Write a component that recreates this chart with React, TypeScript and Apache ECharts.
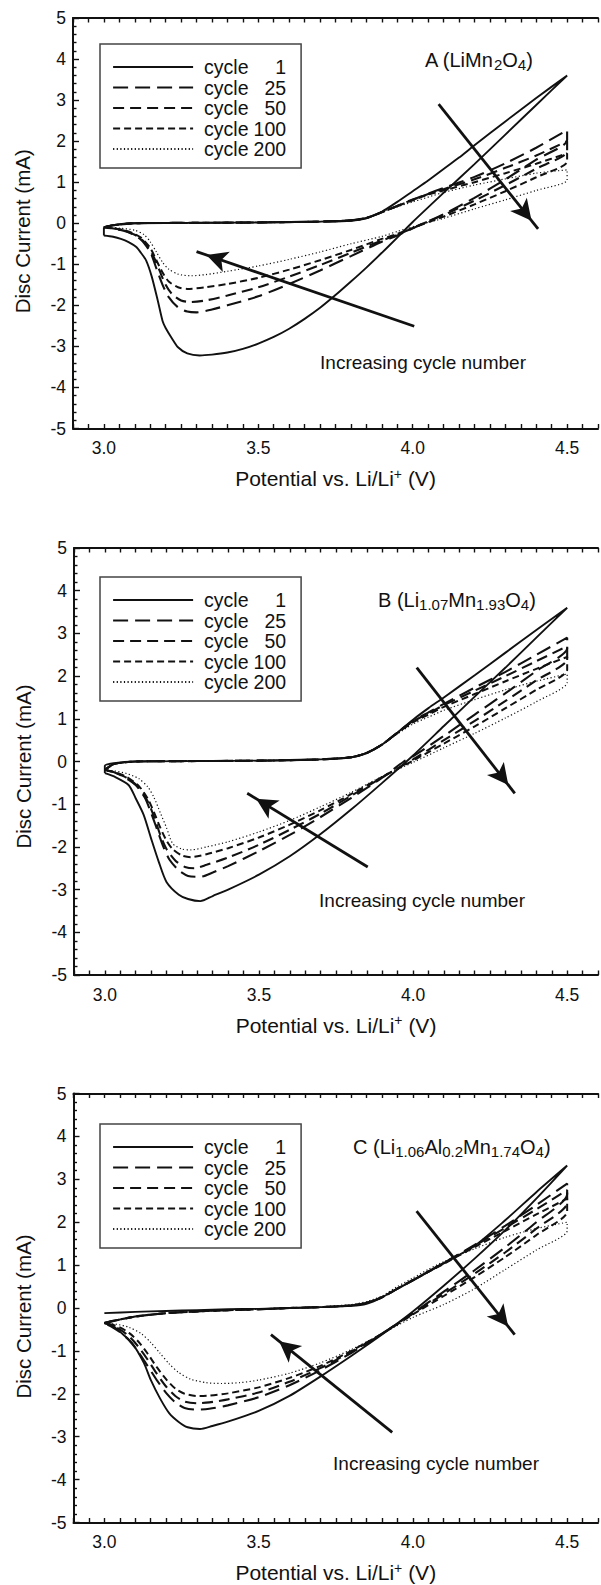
import React, { useEffect, useRef } from 'react';
import * as echarts from 'echarts';

const FONT = '"Liberation Sans", Arial, Helvetica, sans-serif';
const INK = '#111';

const cycleNames = ['cycle 1', 'cycle 25', 'cycle 50', 'cycle 100', 'cycle 200'];
const xTickLabels = [3.0, 3.5, 4.0, 4.5];
const xRange = [2.9, 4.6];
const yRange = [-5, 5];

// ---------- Panel A (LiMn2O4) ----------
const A_cycle1 = [
  [3.0, -0.3], [3.0, -0.12], [3.02, -0.06], [3.05, -0.02], [3.1, 0.0], [3.3, 0.01], [3.5, 0.02], [3.7, 0.04], [3.8, 0.06], [3.85, 0.12], [3.9, 0.28], [3.95, 0.52], [4.0, 0.78], [4.05, 1.04], [4.1, 1.32], [4.15, 1.6], [4.2, 1.9], [4.3, 2.48], [4.4, 3.05], [4.5, 3.6],
  [4.4, 2.88], [4.3, 2.16], [4.2, 1.44], [4.1, 0.74], [4.0, 0.03], [3.95, -0.35], [3.9, -0.72], [3.85, -1.08], [3.8, -1.42], [3.75, -1.75], [3.7, -2.06], [3.65, -2.33], [3.6, -2.57], [3.55, -2.77], [3.5, -2.93], [3.45, -3.06], [3.4, -3.15], [3.35, -3.2], [3.31, -3.22], [3.27, -3.17], [3.24, -3.02], [3.22, -2.8], [3.2, -2.55], [3.19, -2.38], [3.175, -1.9], [3.155, -1.3], [3.137, -0.91], [3.12, -0.72], [3.105, -0.58], [3.08, -0.46], [3.055, -0.38], [3.03, -0.33], [3.0, -0.3],
];
const A_cycle25 = [
  [3.0, -0.1], [3.03, -0.05], [3.1, 0.0], [3.3, 0.01], [3.5, 0.02], [3.7, 0.04], [3.8, 0.07], [3.85, 0.13], [3.9, 0.27], [3.95, 0.42], [4.0, 0.58], [4.05, 0.72], [4.1, 0.86], [4.2, 1.13], [4.3, 1.46], [4.4, 1.84], [4.5, 2.27],
  [4.5, 2.02], [4.4, 1.55], [4.3, 1.07], [4.2, 0.62], [4.1, 0.22], [4.03, -0.02], [3.95, -0.3], [3.9, -0.45], [3.8, -0.8], [3.7, -1.15], [3.6, -1.48], [3.5, -1.78], [3.4, -2.0], [3.35, -2.1], [3.3, -2.17], [3.27, -2.15], [3.24, -2.05], [3.21, -1.8], [3.19, -1.5], [3.17, -1.1], [3.15, -0.7], [3.12, -0.4], [3.08, -0.22], [3.04, -0.14], [3.0, -0.1],
];
const A_cycle50 = [
  [3.0, -0.1], [3.03, -0.05], [3.1, 0.0], [3.3, 0.01], [3.5, 0.02], [3.7, 0.04], [3.8, 0.07], [3.85, 0.13], [3.9, 0.27], [3.95, 0.42], [4.0, 0.57], [4.05, 0.71], [4.1, 0.83], [4.2, 1.07], [4.3, 1.35], [4.4, 1.65], [4.5, 2.0],
  [4.5, 1.75], [4.4, 1.33], [4.3, 0.93], [4.2, 0.55], [4.1, 0.2], [4.03, -0.02], [3.95, -0.28], [3.9, -0.42], [3.8, -0.72], [3.7, -1.02], [3.6, -1.3], [3.5, -1.56], [3.4, -1.76], [3.33, -1.88], [3.28, -1.92], [3.25, -1.88], [3.22, -1.72], [3.2, -1.5], [3.18, -1.15], [3.16, -0.8], [3.13, -0.45], [3.1, -0.28], [3.05, -0.15], [3.0, -0.1],
];
const A_cycle100 = [
  [3.0, -0.1], [3.03, -0.05], [3.1, 0.0], [3.3, 0.01], [3.5, 0.02], [3.7, 0.04], [3.8, 0.07], [3.85, 0.13], [3.9, 0.27], [3.95, 0.42], [4.0, 0.56], [4.05, 0.7], [4.1, 0.8], [4.2, 1.0], [4.3, 1.22], [4.4, 1.45], [4.5, 1.7],
  [4.5, 1.5], [4.4, 1.12], [4.3, 0.78], [4.2, 0.46], [4.1, 0.16], [4.03, -0.03], [3.95, -0.26], [3.9, -0.38], [3.8, -0.65], [3.7, -0.9], [3.6, -1.13], [3.5, -1.33], [3.4, -1.48], [3.33, -1.56], [3.27, -1.6], [3.24, -1.56], [3.21, -1.42], [3.19, -1.2], [3.17, -0.9], [3.15, -0.6], [3.12, -0.35], [3.08, -0.2], [3.03, -0.12], [3.0, -0.1],
];
const A_cycle200 = [
  [3.0, -0.1], [3.03, -0.05], [3.1, 0.0], [3.3, 0.01], [3.5, 0.02], [3.7, 0.04], [3.8, 0.08], [3.85, 0.14], [3.9, 0.27], [3.95, 0.4], [4.0, 0.52], [4.1, 0.75], [4.2, 0.93], [4.3, 1.08], [4.4, 1.22], [4.5, 1.3],
  [4.5, 1.05], [4.4, 0.8], [4.3, 0.57], [4.2, 0.35], [4.1, 0.12], [4.03, -0.02], [3.95, -0.2], [3.9, -0.32], [3.8, -0.5], [3.7, -0.7], [3.6, -0.88], [3.5, -1.04], [3.4, -1.17], [3.33, -1.25], [3.28, -1.28], [3.24, -1.24], [3.21, -1.12], [3.19, -0.95], [3.17, -0.7], [3.15, -0.45], [3.13, -0.28], [3.1, -0.17], [3.05, -0.12], [3.0, -0.1],
];

// ---------- Panel B (Li1.07Mn1.93O4) ----------
const B_cycle1 = [
  [3.0, -0.27], [3.0, -0.1], [3.03, -0.04], [3.1, 0.0], [3.3, 0.01], [3.5, 0.02], [3.7, 0.05], [3.8, 0.1], [3.85, 0.2], [3.9, 0.4], [3.95, 0.68], [4.0, 0.98], [4.05, 1.25], [4.1, 1.5], [4.2, 2.02], [4.3, 2.55], [4.4, 3.08], [4.5, 3.6],
  [4.4, 2.9], [4.3, 2.2], [4.2, 1.52], [4.1, 0.83], [4.0, 0.14], [3.9, -0.5], [3.8, -1.12], [3.7, -1.7], [3.6, -2.22], [3.5, -2.65], [3.4, -3.0], [3.35, -3.15], [3.31, -3.27], [3.27, -3.22], [3.24, -3.12], [3.2, -2.82], [3.175, -2.35], [3.15, -1.8], [3.126, -1.25], [3.1, -0.86], [3.077, -0.55], [3.03, -0.35], [3.0, -0.27],
];
const B_cycle25 = [
  [3.0, -0.2], [3.03, -0.06], [3.1, 0.0], [3.3, 0.01], [3.5, 0.02], [3.7, 0.05], [3.8, 0.1], [3.85, 0.2], [3.9, 0.4], [3.95, 0.68], [4.0, 0.95], [4.05, 1.15], [4.1, 1.35], [4.2, 1.73], [4.3, 2.1], [4.4, 2.5], [4.5, 2.9],
  [4.5, 2.65], [4.4, 2.12], [4.3, 1.6], [4.2, 1.1], [4.1, 0.6], [4.0, 0.12], [3.97, 0.0], [3.9, -0.38], [3.8, -0.85], [3.7, -1.3], [3.6, -1.72], [3.5, -2.1], [3.4, -2.45], [3.35, -2.6], [3.31, -2.7], [3.27, -2.68], [3.24, -2.55], [3.21, -2.3], [3.19, -2.0], [3.17, -1.6], [3.15, -1.2], [3.13, -0.85], [3.1, -0.55], [3.06, -0.35], [3.03, -0.25], [3.0, -0.2],
];
const B_cycle50 = [
  [3.0, -0.2], [3.03, -0.06], [3.1, 0.0], [3.3, 0.01], [3.5, 0.02], [3.7, 0.05], [3.8, 0.1], [3.85, 0.2], [3.9, 0.4], [3.95, 0.68], [4.0, 0.94], [4.05, 1.13], [4.1, 1.32], [4.2, 1.66], [4.3, 2.0], [4.4, 2.35], [4.5, 2.7],
  [4.5, 2.4], [4.4, 1.9], [4.3, 1.42], [4.2, 0.95], [4.1, 0.5], [4.0, 0.05], [3.9, -0.37], [3.8, -0.8], [3.7, -1.22], [3.6, -1.6], [3.5, -1.95], [3.4, -2.25], [3.33, -2.42], [3.29, -2.5], [3.26, -2.47], [3.23, -2.33], [3.2, -2.05], [3.18, -1.72], [3.16, -1.3], [3.14, -0.95], [3.11, -0.6], [3.07, -0.38], [3.03, -0.25], [3.0, -0.2],
];
const B_cycle100 = [
  [3.0, -0.2], [3.03, -0.06], [3.1, 0.0], [3.3, 0.01], [3.5, 0.02], [3.7, 0.05], [3.8, 0.1], [3.85, 0.2], [3.9, 0.4], [3.95, 0.67], [4.0, 0.92], [4.05, 1.1], [4.1, 1.28], [4.2, 1.58], [4.3, 1.88], [4.4, 2.17], [4.5, 2.45],
  [4.5, 2.15], [4.4, 1.68], [4.3, 1.25], [4.2, 0.82], [4.1, 0.42], [4.0, 0.02], [3.9, -0.36], [3.8, -0.76], [3.7, -1.14], [3.6, -1.48], [3.5, -1.78], [3.4, -2.03], [3.33, -2.17], [3.28, -2.24], [3.25, -2.2], [3.22, -2.05], [3.2, -1.85], [3.18, -1.55], [3.16, -1.2], [3.14, -0.88], [3.11, -0.57], [3.07, -0.36], [3.03, -0.25], [3.0, -0.2],
];
const B_cycle200 = [
  [3.0, -0.2], [3.03, -0.06], [3.1, 0.0], [3.3, 0.01], [3.5, 0.02], [3.7, 0.05], [3.8, 0.11], [3.85, 0.21], [3.9, 0.4], [3.95, 0.65], [4.0, 0.88], [4.05, 1.04], [4.1, 1.2], [4.2, 1.45], [4.3, 1.68], [4.4, 1.88], [4.5, 2.05],
  [4.5, 1.85], [4.4, 1.4], [4.3, 1.02], [4.2, 0.66], [4.1, 0.32], [4.0, -0.02], [3.9, -0.35], [3.8, -0.72], [3.7, -1.06], [3.6, -1.38], [3.5, -1.65], [3.4, -1.88], [3.33, -2.0], [3.28, -2.07], [3.25, -2.05], [3.22, -1.92], [3.2, -1.55], [3.18, -1.2], [3.16, -0.85], [3.14, -0.6], [3.11, -0.4], [3.07, -0.28], [3.03, -0.22], [3.0, -0.2],
];

// ---------- Panel C (Li1.06Al0.2Mn1.74O4) ----------
const C_cycle1 = [
  [3.0, -0.12], [3.1, -0.09], [3.2, -0.07], [3.3, -0.05], [3.4, -0.03], [3.5, -0.02], [3.6, 0.0], [3.7, 0.02], [3.8, 0.05], [3.85, 0.1], [3.9, 0.25], [3.95, 0.45], [4.0, 0.64], [4.05, 0.84], [4.1, 1.04], [4.2, 1.45], [4.3, 2.05], [4.4, 2.7], [4.5, 3.32],
  [4.4, 2.55], [4.3, 1.82], [4.2, 1.15], [4.1, 0.52], [4.0, -0.08], [3.9, -0.62], [3.8, -1.12], [3.7, -1.6], [3.6, -2.05], [3.5, -2.4], [3.4, -2.65], [3.35, -2.75], [3.31, -2.82], [3.27, -2.78], [3.24, -2.65], [3.21, -2.45], [3.18, -2.1], [3.15, -1.67], [3.128, -1.28], [3.09, -0.82], [3.055, -0.58], [3.03, -0.43], [3.0, -0.35],
];
const C_cycle25 = [
  [3.0, -0.35], [3.03, -0.3], [3.1, -0.2], [3.2, -0.12], [3.3, -0.08], [3.4, -0.05], [3.5, -0.03], [3.6, 0.0], [3.7, 0.02], [3.8, 0.06], [3.85, 0.12], [3.9, 0.25], [3.95, 0.45], [4.0, 0.65], [4.05, 0.85], [4.1, 1.05], [4.2, 1.47], [4.3, 1.92], [4.4, 2.4], [4.5, 2.9],
  [4.5, 2.65], [4.4, 2.0], [4.3, 1.42], [4.2, 0.88], [4.1, 0.38], [4.0, -0.12], [3.9, -0.6], [3.8, -1.05], [3.7, -1.45], [3.6, -1.8], [3.5, -2.08], [3.4, -2.27], [3.34, -2.35], [3.3, -2.37], [3.26, -2.33], [3.23, -2.2], [3.2, -1.98], [3.17, -1.68], [3.14, -1.35], [3.11, -1.02], [3.08, -0.75], [3.05, -0.56], [3.02, -0.42], [3.0, -0.35],
];
const C_cycle50 = [
  [3.0, -0.35], [3.03, -0.3], [3.1, -0.2], [3.2, -0.12], [3.3, -0.08], [3.4, -0.05], [3.5, -0.03], [3.6, 0.0], [3.7, 0.02], [3.8, 0.06], [3.85, 0.12], [3.9, 0.25], [3.95, 0.45], [4.0, 0.65], [4.05, 0.85], [4.1, 1.05], [4.2, 1.45], [4.3, 1.87], [4.4, 2.3], [4.5, 2.75],
  [4.5, 2.45], [4.4, 1.85], [4.3, 1.3], [4.2, 0.8], [4.1, 0.33], [4.0, -0.13], [3.9, -0.6], [3.8, -1.02], [3.7, -1.4], [3.6, -1.72], [3.5, -1.97], [3.4, -2.13], [3.34, -2.2], [3.3, -2.22], [3.26, -2.18], [3.23, -2.05], [3.2, -1.83], [3.17, -1.53], [3.14, -1.2], [3.11, -0.9], [3.08, -0.66], [3.05, -0.5], [3.02, -0.4], [3.0, -0.35],
];
const C_cycle100 = [
  [3.0, -0.35], [3.03, -0.3], [3.1, -0.2], [3.2, -0.12], [3.3, -0.08], [3.4, -0.05], [3.5, -0.03], [3.6, 0.0], [3.7, 0.02], [3.8, 0.06], [3.85, 0.12], [3.9, 0.25], [3.95, 0.45], [4.0, 0.65], [4.05, 0.84], [4.1, 1.03], [4.2, 1.42], [4.3, 1.8], [4.4, 2.18], [4.5, 2.55],
  [4.5, 2.25], [4.4, 1.7], [4.3, 1.19], [4.2, 0.72], [4.1, 0.28], [4.0, -0.15], [3.9, -0.6], [3.8, -1.0], [3.7, -1.35], [3.6, -1.63], [3.5, -1.85], [3.4, -1.99], [3.34, -2.04], [3.3, -2.05], [3.26, -2.0], [3.23, -1.88], [3.2, -1.66], [3.17, -1.38], [3.14, -1.06], [3.11, -0.78], [3.08, -0.58], [3.05, -0.45], [3.02, -0.38], [3.0, -0.35],
];
const C_cycle200 = [
  [3.0, -0.35], [3.03, -0.3], [3.1, -0.2], [3.2, -0.12], [3.3, -0.08], [3.4, -0.05], [3.5, -0.03], [3.6, 0.0], [3.7, 0.03], [3.8, 0.08], [3.85, 0.15], [3.9, 0.28], [3.95, 0.5], [4.0, 0.7], [4.05, 0.9], [4.1, 1.08], [4.2, 1.38], [4.3, 1.65], [4.4, 1.85], [4.5, 2.0],
  [4.5, 1.8], [4.4, 1.35], [4.3, 0.9], [4.2, 0.45], [4.1, 0.08], [4.0, -0.22], [3.9, -0.6], [3.8, -0.97], [3.7, -1.28], [3.6, -1.52], [3.5, -1.68], [3.44, -1.74], [3.38, -1.76], [3.33, -1.74], [3.28, -1.66], [3.24, -1.5], [3.21, -1.3], [3.18, -1.05], [3.15, -0.8], [3.12, -0.6], [3.08, -0.45], [3.04, -0.38], [3.0, -0.35],
];

// Arrows: [tail, head] in data coordinates
const arrowsA = [[[4.005, -2.51], [3.30, -0.69]], [[4.084, 2.9], [4.406, -0.14]]];
const arrowsB = [[[3.853, -2.47], [3.462, -0.745]], [[4.012, 2.2], [4.33, -0.745]]];
const arrowsC = [[[3.933, -2.9], [3.54, -0.62]], [[4.012, 2.26], [4.33, -0.62]]];

const panelLabels = [
  '{m|A (LiMn}{s|2}{m|O}{s|4}{m|)}',
  '{m|B (Li}{s|1.07}{m|Mn}{s|1.93}{m|O}{s|4}{m|)}',
  '{m|C (Li}{s|1.06}{m|Al}{s|0.2}{m|Mn}{s|1.74}{m|O}{s|4}{m|)}',
];
const noteText = 'Increasing cycle number';
const xTitle = '{m|Potential vs. Li/Li}{p|+}{m| (V)}';
const yTitle = 'Disc Current (mA)';

const panelData = [
  [A_cycle1, A_cycle25, A_cycle50, A_cycle100, A_cycle200],
  [B_cycle1, B_cycle25, B_cycle50, B_cycle100, B_cycle200],
  [C_cycle1, C_cycle25, C_cycle50, C_cycle100, C_cycle200],
];
const panelArrows = [arrowsA, arrowsB, arrowsC];

// styles / layout (not data)
const lineStyles = [
  { type: 'solid', width: 1.9 },
  { type: [15, 7], width: 2.1 },
  { type: [11, 6], width: 2.1 },
  { type: [7, 4], width: 2.0 },
  { type: [1.2, 2.4], width: 1.2 },
];

const layouts = [
  { grid: { left: 73, top: 18, width: 535, height: 410.5 }, legend: { left: 100, top: 44 }, label: { x: 425, y: 60 }, note: { x: 423, y: 362 }, yPad: 16 },
  { grid: { left: 74, top: 548, width: 534, height: 427 }, legend: { left: 100, top: 577 }, label: { x: 378, y: 600 }, note: { x: 422, y: 900 }, yPad: 10 },
  { grid: { left: 73.5, top: 1093.5, width: 534, height: 429 }, legend: { left: 100, top: 1124 }, label: { x: 353, y: 1147 }, note: { x: 436, y: 1463 }, yPad: 17 },
];

const subRich = {
  m: { fontSize: 20, lineHeight: 24, fontFamily: FONT, color: INK },
  s: { fontSize: 15, lineHeight: 14, verticalAlign: 'bottom', fontFamily: FONT, color: INK },
};

function buildOption() {
  const axisLineStyle = { color: INK, width: 2 };
  const tickLine = { color: INK, width: 1.4 };
  const xFormatter = (v: number) =>
    xTickLabels.some((t) => Math.abs(t - v) < 1e-6) ? v.toFixed(1) : '';

  const grid: any[] = [];
  const xAxis: any[] = [];
  const yAxis: any[] = [];
  const series: any[] = [];
  const legend: any[] = [];
  const graphic: any[] = [];

  layouts.forEach((lay, p) => {
    grid.push({ ...lay.grid });
    xAxis.push({
      type: 'value', gridIndex: p, position: 'bottom', min: xRange[0], max: xRange[1], interval: 0.05,
      axisLine: { onZero: false, lineStyle: axisLineStyle },
      axisTick: { inside: true, length: 4.5, lineStyle: tickLine },
      splitLine: { show: false },
      axisLabel: { formatter: xFormatter, margin: 10.5, fontSize: 17.5, color: INK, fontFamily: FONT },
      name: xTitle, nameLocation: 'middle', nameGap: 38,
      nameTextStyle: {
        fontSize: 21, color: INK, fontFamily: FONT,
        rich: {
          m: { fontSize: 21, lineHeight: 24, fontFamily: FONT, color: INK },
          p: { fontSize: 14, lineHeight: 12, verticalAlign: 'top', fontFamily: FONT, color: INK },
        },
      },
    });
    xAxis.push({
      type: 'value', gridIndex: p, position: 'top', min: xRange[0], max: xRange[1], interval: 0.05,
      axisLine: { onZero: false, lineStyle: axisLineStyle },
      axisTick: { inside: true, length: 4.5, lineStyle: tickLine },
      splitLine: { show: false },
      axisLabel: { show: false },
    });
    yAxis.push({
      type: 'value', gridIndex: p, position: 'left', min: yRange[0], max: yRange[1], interval: 1,
      axisLine: { show: true, onZero: false, lineStyle: axisLineStyle },
      axisTick: { inside: true, length: 6, lineStyle: tickLine },
      minorTick: { show: true, splitNumber: 5, length: 3.5, lineStyle: tickLine },
      splitLine: { show: false },
      axisLabel: { margin: 7, fontSize: 17.5, color: INK, fontFamily: FONT },
      name: yTitle, nameLocation: 'middle', nameGap: 40,
      nameTextStyle: { fontSize: 20.5, color: INK, fontFamily: FONT, padding: [0, lay.yPad, 0, 0] },
    });

    panelData[p].forEach((d, i) => {
      const s: any = {
        type: 'line', name: cycleNames[i], xAxisIndex: p * 2, yAxisIndex: p,
        data: d, showSymbol: false, symbol: 'none', smooth: 0.25, silent: true,
        lineStyle: { color: INK, width: lineStyles[i].width, type: lineStyles[i].type },
        itemStyle: { color: INK },
        emphasis: { disabled: true },
        z: 3,
      };
      if (i === 0) {
        s.markLine = {
          silent: true,
          symbol: ['none', 'arrow'],
          symbolSize: [16, 21],
          symbolOffset: [[0, 0], [0, '50%']],
          label: { show: false },
          emphasis: { disabled: true },
          lineStyle: { color: INK, width: 2.8, type: 'solid' },
          itemStyle: { color: INK },
          data: panelArrows[p].map((a) => [{ coord: a[0] }, { coord: a[1] }]),
          z: 5,
        };
      }
      series.push(s);
    });

    legend.push({
      data: cycleNames,
      orient: 'vertical',
      left: lay.legend.left,
      top: lay.legend.top,
      itemWidth: 80,
      itemHeight: 20,
      itemGap: 0.5,
      padding: [13, 15, 9, 12],
      borderColor: '#444',
      borderWidth: 1.5,
      borderRadius: 0,
      selectedMode: false,
      itemStyle: { opacity: 0 },
      lineStyle: { width: 2.2 },
      formatter: (name: string) => {
        const parts = name.split(' ');
        return `{a|${parts[0]}}{b|${parts[1]}}`;
      },
      textStyle: {
        fontSize: 19.5, color: INK, fontFamily: FONT, lineHeight: 20,
        rich: {
          a: { width: 48, padding: [0, 0, 0, 6], fontSize: 19.5, fontFamily: FONT, color: INK, lineHeight: 20 },
          b: { width: 34, align: 'right', fontSize: 19.5, fontFamily: FONT, color: INK, lineHeight: 20 },
        },
      },
    });

    graphic.push({
      type: 'text', x: lay.label.x, y: lay.label.y, silent: true,
      style: { text: panelLabels[p], rich: subRich, align: 'left', verticalAlign: 'middle', fill: INK, font: `20px ${FONT}` },
    });
    graphic.push({
      type: 'text', x: lay.note.x, y: lay.note.y, silent: true,
      style: { text: noteText, align: 'center', verticalAlign: 'middle', fill: INK, font: `19px ${FONT}` },
    });
  });

  return {
    animation: false,
    backgroundColor: '#fff',
    textStyle: { fontFamily: FONT },
    grid, xAxis, yAxis, series, legend, graphic,
  };
}

export default function App() {
  const ref = useRef<HTMLDivElement>(null);
  useEffect(() => {
    if (!ref.current) return;
    const chart = echarts.init(ref.current, null, { renderer: 'svg' });
    chart.setOption(buildOption() as any);
    return () => chart.dispose();
  }, []);
  return (
    <div
      ref={ref}
      style={{ position: 'absolute', left: 0, top: 0, width: 601, height: 1585, background: '#fff' }}
    />
  );
}
